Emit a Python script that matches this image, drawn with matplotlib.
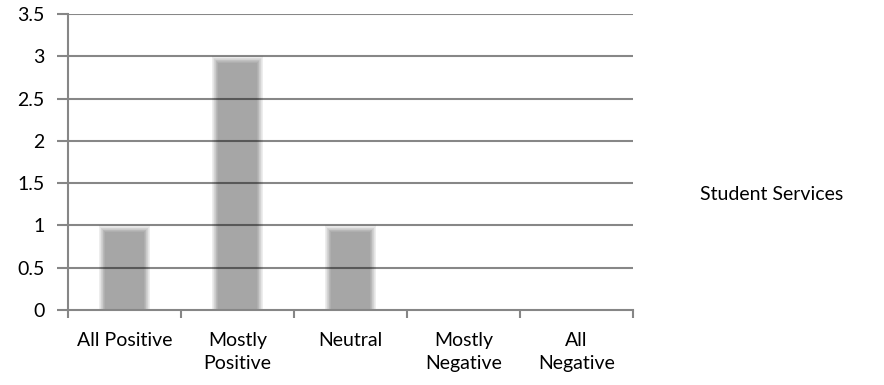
import matplotlib
matplotlib.use("Agg")
import matplotlib.pyplot as plt
import numpy as np

plt.rcParams['font.family'] = ['Lato', 'DejaVu Sans']

# Survey responses for Student Services
categories = ["All Positive", "Mostly\nPositive", "Neutral", "Mostly\nNegative", "All\nNegative"]
values = [1, 3, 1, 0, 0]
series_name = "Student Services"
y_ticks = [0, 0.5, 1, 1.5, 2, 2.5, 3, 3.5]
y_tick_labels = ["0", "0.5", "1", "1.5", "2", "2.5", "3", "3.5"]

W, H, DPI = 8.84, 3.85, 100
fig = plt.figure(figsize=(W, H), dpi=DPI)
ax_rect = [68 / 884, 1 - 310 / 385, (633 - 68) / 884, (310 - 14) / 385]
ax = fig.add_axes(ax_rect)

x = np.arange(len(categories))
ax.set_xlim(-0.5, len(categories) - 0.5)
ax.set_ylim(0, 3.5)

# pixels per data unit, used for the soft-edged bar rendering
px_x = ax_rect[2] * W * DPI / len(categories)
px_y = ax_rect[3] * H * DPI / 3.5

bar_rgb = np.array([0.651, 0.651, 0.651])
bar_w = 0.46
ramp_px = 7.0
n_layers = 10
for i in range(n_layers):
    inset = ramp_px * i / n_layers
    t = (i + 1) / n_layers
    col = 1.0 * (1 - t) + bar_rgb * t
    heights = [max(v - inset / px_y, 0) if v > 0 else 0 for v in values]
    ax.bar(x, heights, width=bar_w - 2 * inset / px_x, color=col,
           linewidth=0, zorder=2)

# horizontal gridlines over the bars
for yv in y_ticks[1:]:
    ax.axhline(yv, color='black', alpha=0.47, lw=1.5, zorder=3)

for s in ['top', 'right']:
    ax.spines[s].set_visible(False)
for s in ['left', 'bottom']:
    ax.spines[s].set_color('#868686')
    ax.spines[s].set_linewidth(1.5)
    ax.spines[s].set_zorder(4)

ax.set_yticks(y_ticks)
ax.set_yticklabels(y_tick_labels, fontsize=14)
ax.tick_params(axis='y', length=8, width=1.5, color='#868686', pad=9,
               labelcolor='black')

ax.set_xticks(x)
ax.set_xticklabels(categories, fontsize=14, linespacing=1.45)
ax.tick_params(axis='x', length=0, pad=15.5, labelcolor='black')
ax.set_xticks(np.arange(len(categories) + 1) - 0.5, minor=True)
ax.tick_params(axis='x', which='minor', length=6, width=1.5, color='#868686')
for lbl in ax.get_xticklabels():
    lbl.set_verticalalignment('top')

fig.text(700 / 884, 1 - 195 / 385, series_name, fontsize=14,
         va='center', ha='left')

fig.savefig("out.png", dpi=DPI)
